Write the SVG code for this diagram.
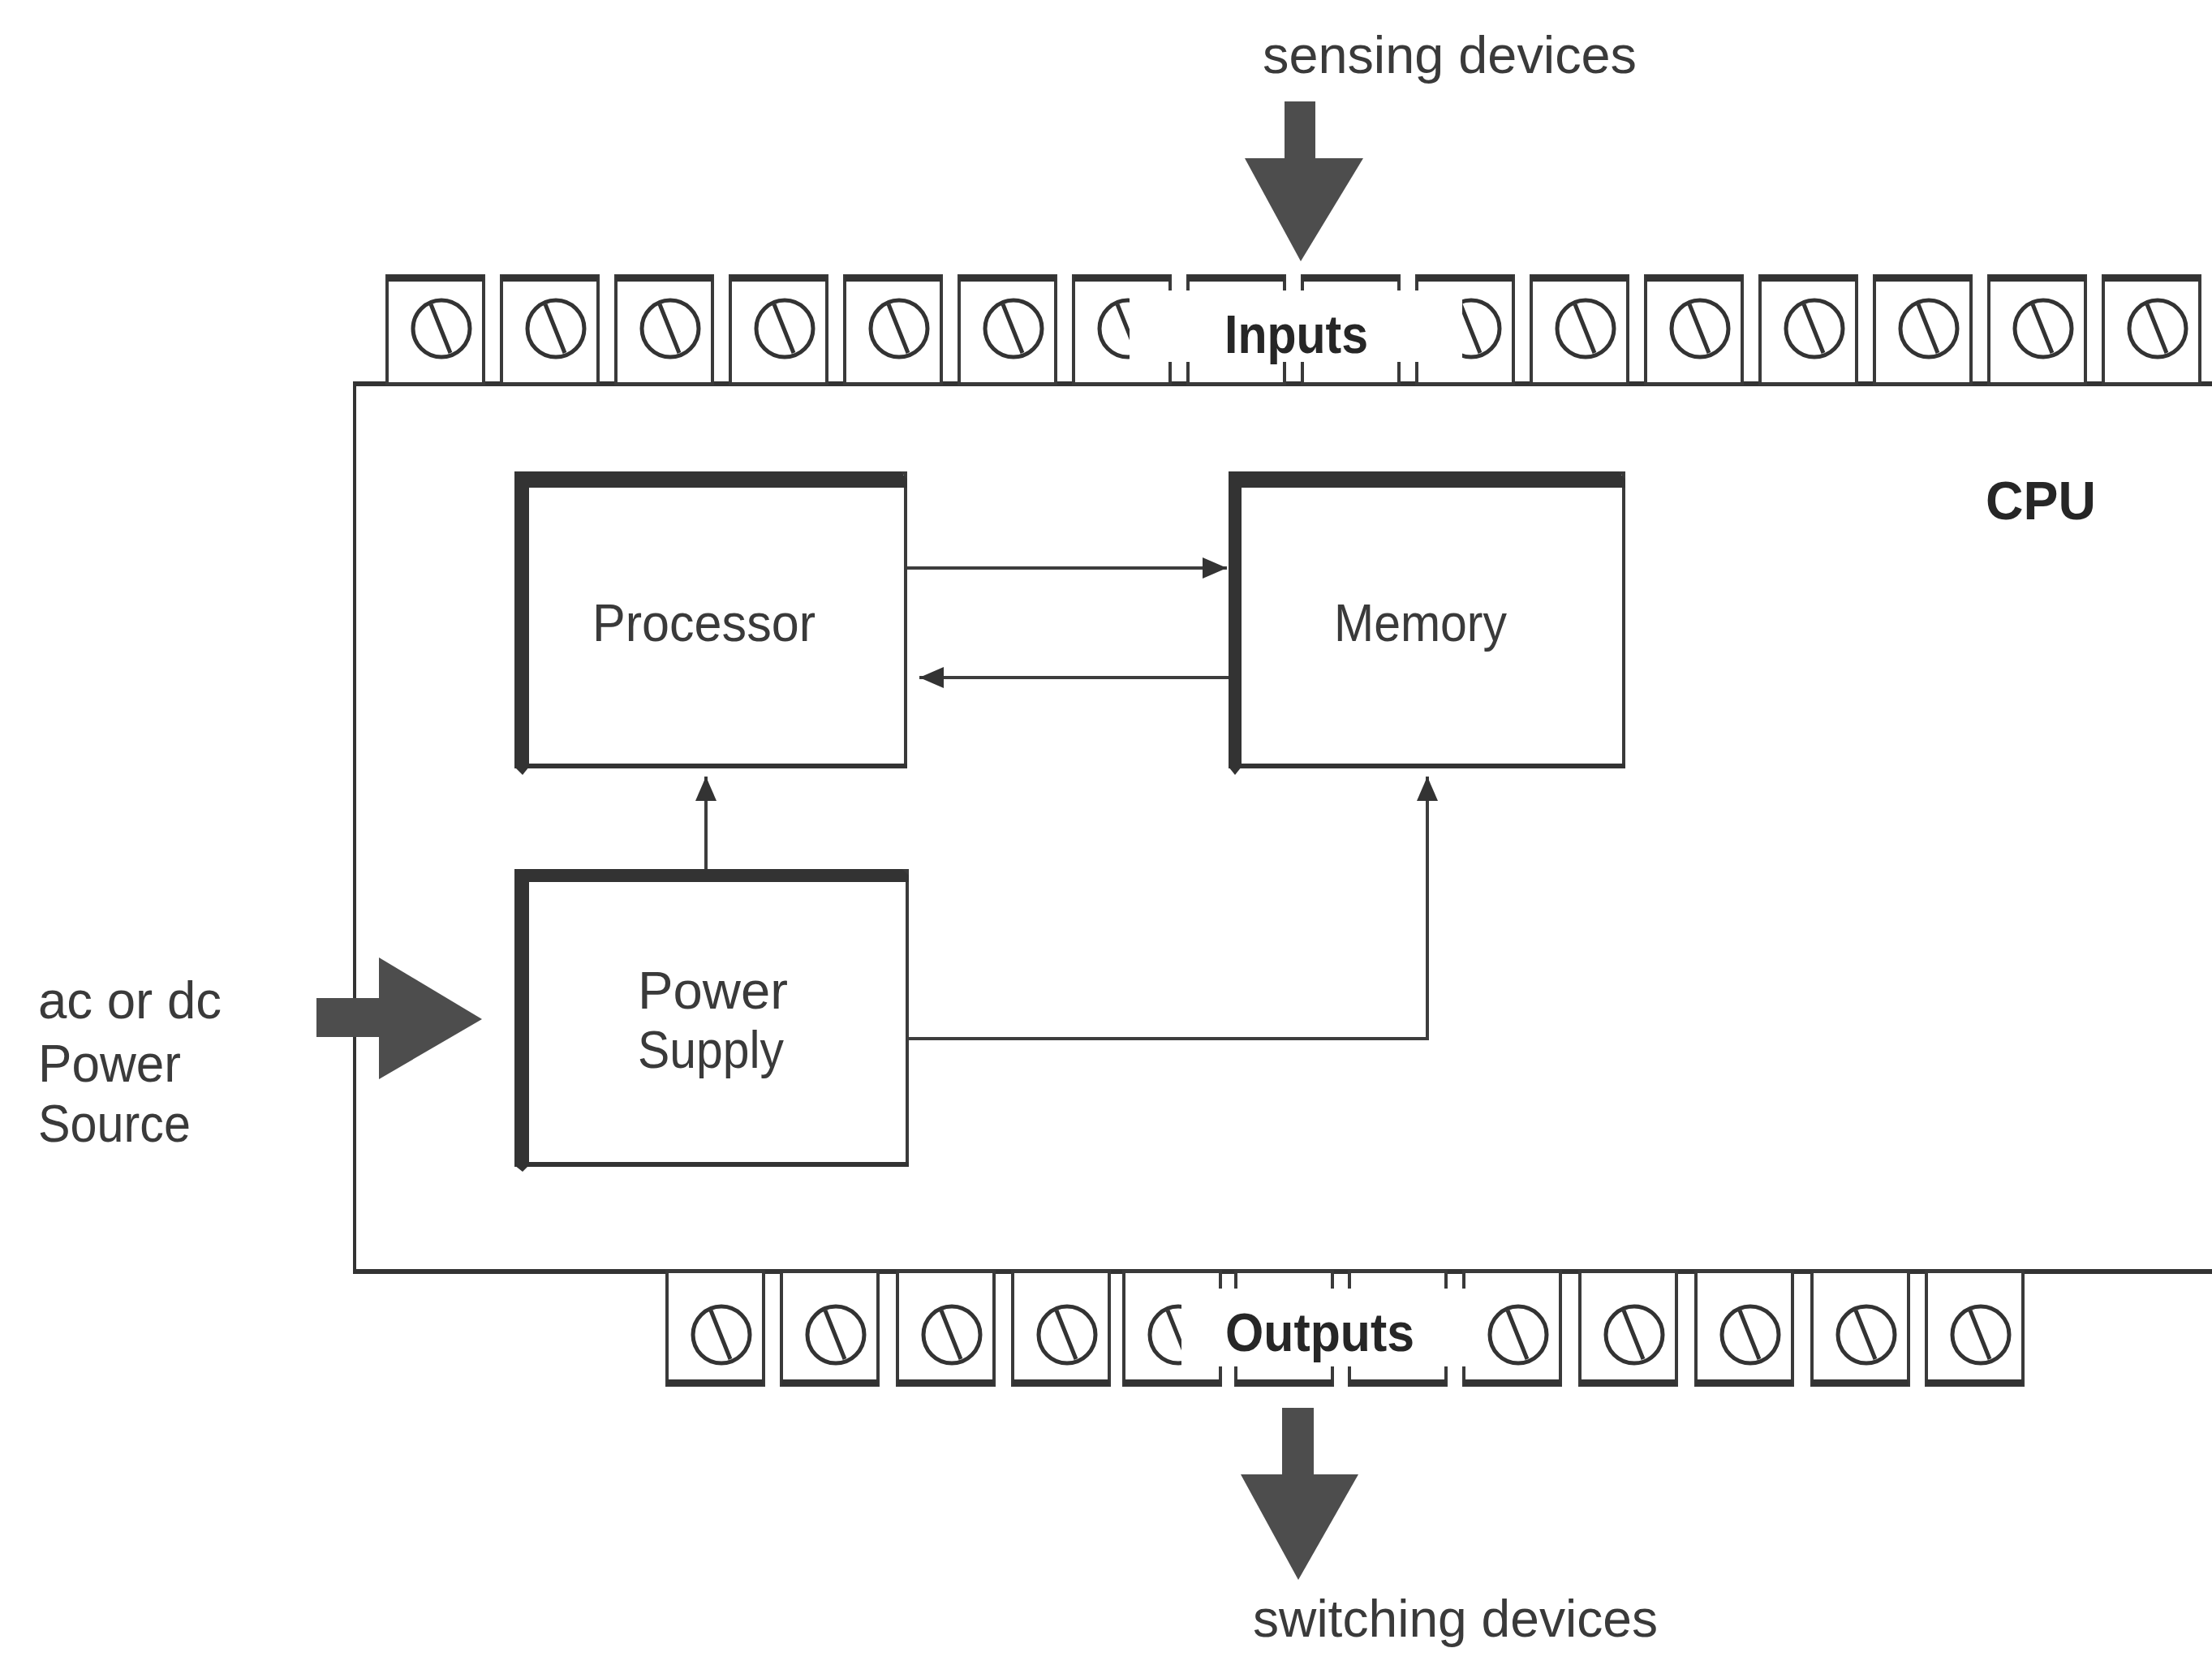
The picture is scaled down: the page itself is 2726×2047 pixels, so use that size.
<svg xmlns="http://www.w3.org/2000/svg" xmlns:xlink="http://www.w3.org/1999/xlink" width="2726" height="2047" viewBox="0 0 2726 2047">
<style>
.t{font-family:"Liberation Sans","DejaVu Sans",sans-serif;font-size:64px;fill:#3a3a3a}
.b{font-family:"Liberation Sans","DejaVu Sans",sans-serif;font-size:66px;font-weight:bold;fill:#262626}
.box{fill:#fff;stroke:#3a3a3a;stroke-width:4}
.band{fill:#333}
.term{fill:#fff;stroke:#3a3a3a;stroke-width:4}
.screw{fill:none;stroke:#333;stroke-width:5}
.conn{fill:none;stroke:#3d3d3d;stroke-width:4}
.big{fill:#4d4d4d}
</style>
<defs>
<g id="screw"><circle class="screw" cx="0" cy="0" r="35"/><line class="screw" x1="-13" y1="-30" x2="11" y2="30"/></g>
<marker id="ah" markerUnits="userSpaceOnUse" markerWidth="32" markerHeight="26" refX="30" refY="13" orient="auto"><path d="M0,0 L30,13 L0,26 z" fill="#333"/></marker>
</defs>
<rect x="0" y="0" width="2726" height="2047" fill="#fff"/>

<g id="cpu">
<line x1="437" y1="473" x2="2730" y2="473" stroke="#333" stroke-width="6"/>
<line x1="437" y1="1567" x2="2730" y2="1567" stroke="#333" stroke-width="6"/>
<line x1="437" y1="470" x2="437" y2="1570" stroke="#333" stroke-width="4"/>
<text class="b" x="2447" y="640" font-size="68" textLength="136" lengthAdjust="spacingAndGlyphs">CPU</text>
</g>

<g id="inputs">
<g id="in1"><rect class="term" x="477" y="340" width="119" height="133"/><line x1="477" y1="343" x2="596" y2="343" stroke="#333" stroke-width="8"/><use href="#screw" x="544" y="405"/></g>
<g id="in2"><rect class="term" x="618" y="340" width="119" height="133"/><line x1="618" y1="343" x2="737" y2="343" stroke="#333" stroke-width="8"/><use href="#screw" x="685" y="405"/></g>
<g id="in3"><rect class="term" x="759" y="340" width="119" height="133"/><line x1="759" y1="343" x2="878" y2="343" stroke="#333" stroke-width="8"/><use href="#screw" x="826" y="405"/></g>
<g id="in4"><rect class="term" x="900" y="340" width="119" height="133"/><line x1="900" y1="343" x2="1019" y2="343" stroke="#333" stroke-width="8"/><use href="#screw" x="967" y="405"/></g>
<g id="in5"><rect class="term" x="1041" y="340" width="119" height="133"/><line x1="1041" y1="343" x2="1160" y2="343" stroke="#333" stroke-width="8"/><use href="#screw" x="1108" y="405"/></g>
<g id="in6"><rect class="term" x="1182" y="340" width="119" height="133"/><line x1="1182" y1="343" x2="1301" y2="343" stroke="#333" stroke-width="8"/><use href="#screw" x="1249" y="405"/></g>
<g id="in7"><rect class="term" x="1323" y="340" width="119" height="133"/><line x1="1323" y1="343" x2="1442" y2="343" stroke="#333" stroke-width="8"/><use href="#screw" x="1390" y="405"/></g>
<g id="in8"><rect class="term" x="1464" y="340" width="119" height="133"/><line x1="1464" y1="343" x2="1583" y2="343" stroke="#333" stroke-width="8"/></g>
<g id="in9"><rect class="term" x="1605" y="340" width="119" height="133"/><line x1="1605" y1="343" x2="1724" y2="343" stroke="#333" stroke-width="8"/></g>
<g id="in10"><rect class="term" x="1746" y="340" width="119" height="133"/><line x1="1746" y1="343" x2="1865" y2="343" stroke="#333" stroke-width="8"/><use href="#screw" x="1813" y="405"/></g>
<g id="in11"><rect class="term" x="1887" y="340" width="119" height="133"/><line x1="1887" y1="343" x2="2006" y2="343" stroke="#333" stroke-width="8"/><use href="#screw" x="1954" y="405"/></g>
<g id="in12"><rect class="term" x="2028" y="340" width="119" height="133"/><line x1="2028" y1="343" x2="2147" y2="343" stroke="#333" stroke-width="8"/><use href="#screw" x="2095" y="405"/></g>
<g id="in13"><rect class="term" x="2169" y="340" width="119" height="133"/><line x1="2169" y1="343" x2="2288" y2="343" stroke="#333" stroke-width="8"/><use href="#screw" x="2236" y="405"/></g>
<g id="in14"><rect class="term" x="2310" y="340" width="119" height="133"/><line x1="2310" y1="343" x2="2429" y2="343" stroke="#333" stroke-width="8"/><use href="#screw" x="2377" y="405"/></g>
<g id="in15"><rect class="term" x="2451" y="340" width="119" height="133"/><line x1="2451" y1="343" x2="2570" y2="343" stroke="#333" stroke-width="8"/><use href="#screw" x="2518" y="405"/></g>
<g id="in16"><rect class="term" x="2592" y="340" width="119" height="133"/><line x1="2592" y1="343" x2="2711" y2="343" stroke="#333" stroke-width="8"/><use href="#screw" x="2659" y="405"/></g>
<rect x="1392" y="358" width="410" height="88" fill="#fff"/>
<text class="b" x="1509" y="435" textLength="177" lengthAdjust="spacingAndGlyphs">Inputs</text>
</g>

<g id="outputs">
<g id="out1"><rect class="term" x="822" y="1567" width="119" height="140"/><line x1="822" y1="1704" x2="941" y2="1704" stroke="#333" stroke-width="8"/><use href="#screw" x="889" y="1645"/></g>
<g id="out2"><rect class="term" x="963" y="1567" width="119" height="140"/><line x1="963" y1="1704" x2="1082" y2="1704" stroke="#333" stroke-width="8"/><use href="#screw" x="1030" y="1645"/></g>
<g id="out3"><rect class="term" x="1106" y="1567" width="119" height="140"/><line x1="1106" y1="1704" x2="1225" y2="1704" stroke="#333" stroke-width="8"/><use href="#screw" x="1173" y="1645"/></g>
<g id="out4"><rect class="term" x="1248" y="1567" width="119" height="140"/><line x1="1248" y1="1704" x2="1367" y2="1704" stroke="#333" stroke-width="8"/><use href="#screw" x="1315" y="1645"/></g>
<g id="out5"><rect class="term" x="1385" y="1567" width="119" height="140"/><line x1="1385" y1="1704" x2="1504" y2="1704" stroke="#333" stroke-width="8"/><use href="#screw" x="1452" y="1645"/></g>
<g id="out6"><rect class="term" x="1523" y="1567" width="119" height="140"/><line x1="1523" y1="1704" x2="1642" y2="1704" stroke="#333" stroke-width="8"/></g>
<g id="out7"><rect class="term" x="1663" y="1567" width="119" height="140"/><line x1="1663" y1="1704" x2="1782" y2="1704" stroke="#333" stroke-width="8"/></g>
<g id="out8"><rect class="term" x="1804" y="1567" width="119" height="140"/><line x1="1804" y1="1704" x2="1923" y2="1704" stroke="#333" stroke-width="8"/><use href="#screw" x="1871" y="1645"/></g>
<g id="out9"><rect class="term" x="1947" y="1567" width="119" height="140"/><line x1="1947" y1="1704" x2="2066" y2="1704" stroke="#333" stroke-width="8"/><use href="#screw" x="2014" y="1645"/></g>
<g id="out10"><rect class="term" x="2090" y="1567" width="119" height="140"/><line x1="2090" y1="1704" x2="2209" y2="1704" stroke="#333" stroke-width="8"/><use href="#screw" x="2157" y="1645"/></g>
<g id="out11"><rect class="term" x="2233" y="1567" width="119" height="140"/><line x1="2233" y1="1704" x2="2352" y2="1704" stroke="#333" stroke-width="8"/><use href="#screw" x="2300" y="1645"/></g>
<g id="out12"><rect class="term" x="2374" y="1567" width="119" height="140"/><line x1="2374" y1="1704" x2="2493" y2="1704" stroke="#333" stroke-width="8"/><use href="#screw" x="2441" y="1645"/></g>
<rect x="1456" y="1588" width="354" height="96" fill="#fff"/>
<text class="b" x="1510" y="1665" textLength="233" lengthAdjust="spacingAndGlyphs">Outputs</text>
</g>

<g id="processor">
<rect class="box" x="636" y="583" width="480" height="362"/>
<polygon class="band" points="634,581 1110,581 1118,591 1118,601 634,601"/>
<polygon class="band" points="634,581 652,581 652,945 644,955 634,945"/>
<line x1="636" y1="944" x2="1118" y2="944" stroke="#333" stroke-width="6"/>
<text class="t" x="730" y="790" textLength="275" lengthAdjust="spacingAndGlyphs">Processor</text>
</g>

<g id="memory">
<rect class="box" x="1516" y="583" width="485" height="362"/>
<polygon class="band" points="1514,581 1995,581 2003,591 2003,601 1514,601"/>
<polygon class="band" points="1514,581 1530,581 1530,945 1522,955 1514,945"/>
<line x1="1516" y1="944" x2="2003" y2="944" stroke="#333" stroke-width="6"/>
<text class="t" x="1644" y="790" textLength="213" lengthAdjust="spacingAndGlyphs">Memory</text>
</g>

<g id="power-supply">
<rect class="box" x="636" y="1073" width="482" height="363"/>
<polygon class="band" points="634,1071 1112,1071 1120,1079 1120,1087 634,1087"/>
<polygon class="band" points="634,1071 652,1071 652,1436 644,1444 634,1436"/>
<line x1="636" y1="1435" x2="1120" y2="1435" stroke="#333" stroke-width="6"/>
<text class="t" x="786" y="1243" textLength="185" lengthAdjust="spacingAndGlyphs">Power</text>
<text class="t" x="786" y="1316" textLength="180" lengthAdjust="spacingAndGlyphs">Supply</text>
</g>

<g id="connectors">
<line class="conn" x1="1118" y1="700" x2="1512" y2="700" marker-end="url(#ah)"/>
<line class="conn" x1="1514" y1="835" x2="1133" y2="835" marker-end="url(#ah)"/>
<line class="conn" x1="870" y1="1071" x2="870" y2="957" marker-end="url(#ah)"/>
<polyline class="conn" points="1120,1280 1759,1280 1759,957" marker-end="url(#ah)"/>
</g>

<g id="sensing-arrow">
<rect class="big" x="1583" y="125" width="38" height="72"/>
<polygon class="big" points="1534,195 1680,195 1603,322"/>
<text class="t" x="1556" y="90" textLength="461" lengthAdjust="spacingAndGlyphs">sensing  devices</text>
</g>

<g id="switching-arrow">
<rect class="big" x="1580" y="1735" width="39" height="84"/>
<polygon class="big" points="1529,1817 1674,1817 1600,1947"/>
<text class="t" x="1544" y="2017" textLength="499" lengthAdjust="spacingAndGlyphs">switching  devices</text>
</g>

<g id="power-source-arrow">
<rect class="big" x="390" y="1230" width="80" height="48"/>
<polygon class="big" points="467,1180 467,1330 594,1256"/>
<text class="t" x="47" y="1255" textLength="226" lengthAdjust="spacingAndGlyphs">ac or dc</text>
<text class="t" x="47" y="1333" textLength="176" lengthAdjust="spacingAndGlyphs">Power</text>
<text class="t" x="47" y="1407" textLength="188" lengthAdjust="spacingAndGlyphs">Source</text>
</g>
</svg>
